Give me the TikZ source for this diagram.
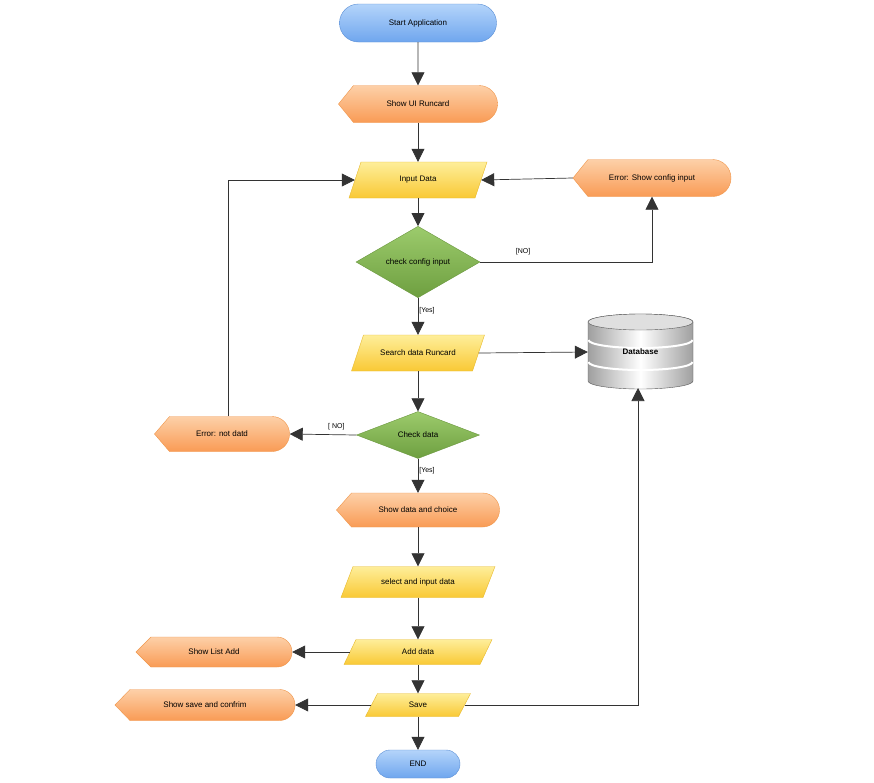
\documentclass[tikz,border=0pt]{standalone}
\usepackage{fontspec}
\setmainfont{Liberation Sans}
\usetikzlibrary{shapes.geometric,shapes.misc,arrows.meta}
\definecolor{blT}{HTML}{B4D4FA}\definecolor{blB}{HTML}{6FA6EE}\definecolor{blD}{HTML}{5B8FD6}
\definecolor{orT}{HTML}{FDD0A8}\definecolor{orB}{HTML}{F99B55}\definecolor{orD}{HTML}{F0964A}
\definecolor{yeT}{HTML}{FEEE9A}\definecolor{yeB}{HTML}{F9C935}\definecolor{yeD}{HTML}{E8B92A}
\definecolor{grT}{HTML}{9CCB6C}\definecolor{grB}{HTML}{6E9F40}\definecolor{grD}{HTML}{6A973D}
\tikzset{
 txt/.style={inner sep=0pt,font=\fontsize{8}{9}\selectfont},
 term/.style={rounded rectangle,draw=blD,top color=blT,bottom color=blB,txt},
 disp/.style={draw=orD,top color=orT,bottom color=orB},
 para/.style={draw=yeD,top color=yeT,bottom color=yeB},
 dec/.style={diamond,draw=grD,top color=grT,bottom color=grB,txt},
 lab/.style={font=\fontsize{7}{8}\selectfont,inner sep=1pt},
 con/.style={draw=black!80,line width=0.7pt,-{Triangle[length=13pt,width=13pt]}},
}
\newcommand\dispnode[6]{%
 \path[disp] ({#2-#4/2},#3) -- ({#2-#4/2+15},{#3+#5/2}) -- ({#2+#4/2-#5/2},{#3+#5/2})
   arc[start angle=90,end angle=-90,radius={#5/2}] -- ({#2-#4/2+15},{#3-#5/2}) -- cycle;
 \node[txt,minimum width=#4,minimum height=#5] (#1) at (#2,#3) {#6};}
\newcommand\paranode[6]{%
 \path[para] ({#2-#4/2},{#3-#5/2}) -- ({#2-#4/2+12},{#3+#5/2}) -- ({#2+#4/2},{#3+#5/2})
   -- ({#2+#4/2-12},{#3-#5/2}) -- cycle;
 \node[txt,minimum width={#4-12},minimum height=#5] (#1) at (#2,#3) {#6};}
\begin{document}
\begin{tikzpicture}[x=1pt,y=1pt]
\useasboundingbox[fill=white] (0,0) rectangle (874,-782);
\node[term,minimum width=157,minimum height=38] (start) at (418,-23) {Start Application};
\dispnode{ui}{418}{-104}{159}{37}{Show UI Runcard}
\paranode{input}{418}{-180}{138}{36}{Input Data}
\dispnode{err1}{652}{-178}{158}{37}{Error: Show config input}
\node[dec,minimum width=124,minimum height=49] (cc) at (418,-262) {check config input};
\paranode{search}{418}{-353}{133}{36}{Search data Runcard}
% database
\begin{scope}
\path[left color=gray!75,right color=gray!75,middle color=white,draw=gray!70!black]
  (588,-322) -- (588,-381) arc[start angle=180,end angle=360,x radius=52.5,y radius=8]
  -- (693,-322) arc[start angle=0,end angle=180,x radius=52.5,y radius=8];
\path[fill=gray!25,draw=gray!70!black] (640.5,-322) ellipse[x radius=52.5,y radius=8];
\draw[white,line width=2pt] (588.5,-340) arc[start angle=180,end angle=360,x radius=52,y radius=8];
\draw[white,line width=2pt] (588.5,-362) arc[start angle=180,end angle=360,x radius=52,y radius=8];
\end{scope}
\node[txt,minimum width=105,minimum height=73,font=\fontsize{8}{9}\selectfont\bfseries] (db) at (640.5,-352) {Database};
\node[dec,minimum width=123,minimum height=47] (cd) at (418,-435) {Check data};
\dispnode{err2}{222}{-434}{135}{35}{Error: not datd}
\dispnode{sdc}{418}{-510}{163}{34}{Show data and choice}
\paranode{sel}{418}{-582}{154}{31}{select and input data}
\paranode{add}{418}{-652}{148}{25}{Add data}
\dispnode{lst}{214}{-652}{156}{30}{Show List Add}
\paranode{save}{418}{-705}{105}{23}{Save}
\dispnode{ssc}{205}{-705}{180}{31}{Show save and confrim}
\node[term,minimum width=84,minimum height=28] (end) at (418,-764) {END};
% connectors
\draw[con] (start) -- (ui);
\draw[con] (ui) -- (input);
\draw[con] (input) -- (cc);
\draw[con] (cc) -- node[lab,right,pos=0.35] (y1) {[Yes]} (search);
\draw[con] (search) -- (cd);
\draw[con] (cd) -- node[lab,right,pos=0.35] (y2) {[Yes]} (sdc);
\draw[con] (sdc) -- (sel);
\draw[con] (sel) -- (add);
\draw[con] (add) -- (save);
\draw[con] (save) -- (end);
\draw[con] (cc.east) -- node[lab,above=6pt,pos=0.25] (n1) {[NO]} (cc.east -| err1.south) -- (err1.south);
\draw[con] (err1.west) -- (input.east);
\draw[con] (search.east) -- (db.west);
\draw[con] (cd.west) -- node[lab,above=3pt,pos=0.3] (n2) {[ NO]} (err2.east);
\draw[con] (err2.north -| 228,0) -- (228,-180) -- (input.west);
\draw[con] (add.west) -- (lst.east);
\draw[con] (save.west) -- (ssc.east);
\draw[con] (save.east) -- (save.east -| 638,0) -- (638,-388);
\end{tikzpicture}
\end{document}
